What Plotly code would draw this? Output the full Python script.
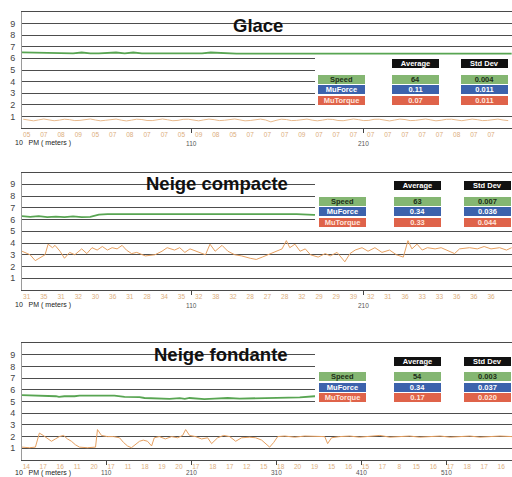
import plotly.graph_objects as go

W, H = 512, 477

# ---------------- data ----------------
PANEL_TITLES = ["Glace", "Neige compacte", "Neige fondante"]
ROW_NAMES = ["Speed", "MuForce", "MuTorque"]
AVG_GLACE = ["64", "0.11", "0.07"]
STD_GLACE = ["0.004", "0.011", "0.011"]
AVG_COMPACTE = ["63", "0.34", "0.33"]
STD_COMPACTE = ["0.007", "0.036", "0.044"]
AVG_FONDANTE = ["54", "0.34", "0.17"]
STD_FONDANTE = ["0.003", "0.037", "0.020"]

Y_TICKS = [1, 2, 3, 4, 5, 6, 7, 8, 9, 10]
Y_TICKTEXT = ["1", "2", "3", "4", "5", "6", "7", "8", "9", ""]

# small sample labels under each axis (PM in meters)
SAMPLE_PM_1 = [14 + 10 * k for k in range(28)]
SAMPLE_LBL_1 = ["05", "07", "08", "09", "05", "07", "08", "07", "07", "05", "09", "08", "05", "07",
                "07", "07", "09", "07", "07", "07", "07", "07", "07", "07", "07", "08", "07", "07"]
SAMPLE_PM_2 = [14 + 10 * k for k in range(28)]
SAMPLE_LBL_2 = ["31", "35", "31", "32", "30", "36", "31", "28", "34", "35", "32", "38", "32", "28",
                "27", "28", "32", "29", "29", "39", "32", "31", "36", "33", "33", "36", "36", "36"]
SAMPLE_PM_3 = [15 + 20 * k for k in range(29)]
SAMPLE_LBL_3 = ["14", "17", "16", "11", "20", "17", "11", "18", "19", "20", "17", "18", "17", "12",
                "15", "18", "20", "19", "15", "16", "15", "17", "8", "15", "16", "17", "18", "17", "16"]

PM_MARKS_1 = [110, 210]
PM_MARKS_2 = [110, 210]
PM_MARKS_3 = [110, 210, 310, 410, 510]

# Glace : speed (/10) and MuTorque (x10)
SPEED1_PM = [11, 16, 21, 26, 31, 36, 41, 46, 51, 56, 61, 66, 71, 76, 81, 86, 91, 96, 101, 106,
             111, 116, 121, 126, 131, 136, 141, 146, 151, 156, 161, 166, 171, 176, 181, 186, 191,
             196, 201, 206, 211, 216, 221, 226, 231, 236, 241, 246, 251, 256, 261, 266, 271, 276,
             281, 286, 291, 296]
SPEED1 = [6.52, 6.50, 6.45, 6.43, 6.43, 6.43, 6.43, 6.50, 6.43, 6.43, 6.48, 6.50, 6.43, 6.50,
          6.43, 6.43, 6.43, 6.48, 6.43, 6.43, 6.43, 6.43, 6.50, 6.45, 6.40, 6.40, 6.40, 6.40,
          6.40, 6.40, 6.40, 6.46, 6.40, 6.40, 6.46, 6.40, 6.40, 6.40, 6.40, 6.40, 6.40, 6.40,
          6.40, 6.46, 6.40, 6.40, 6.40, 6.40, 6.40, 6.40, 6.40, 6.40, 6.40, 6.46, 6.40, 6.40,
          6.40, 6.40]
MUT1_PM = [12 + 3 * k for k in range(95)]
MUT1 = [0.78, 0.70, 0.64, 0.72, 0.80, 0.72, 0.65, 0.70, 0.78, 0.74,
        0.66, 0.68, 0.76, 0.80, 0.71, 0.64, 0.69, 0.77, 0.79, 0.70,
        0.63, 0.70, 0.78, 0.75, 0.67, 0.66, 0.74, 0.80, 0.73, 0.65,
        0.68, 0.77, 0.78, 0.69, 0.64, 0.72, 0.79, 0.74, 0.66, 0.69,
        0.77, 0.80, 0.72, 0.64, 0.67, 0.76, 0.79, 0.71, 0.55, 0.68,
        0.78, 0.75, 0.66, 0.68, 0.76, 0.79, 0.70, 0.64, 0.70, 0.78,
        0.76, 0.67, 0.65, 0.73, 0.80, 0.74, 0.66, 0.68, 0.77, 0.78,
        0.69, 0.63, 0.71, 0.79, 0.75, 0.66, 0.68, 0.76, 0.80, 0.72,
        0.64, 0.69, 0.77, 0.78, 0.70, 0.65, 0.72, 0.79, 0.74, 0.66,
        0.68, 0.76, 0.79, 0.71, 0.66]

# Neige compacte
SPEED2_PM = [11, 16, 21, 26, 31, 36, 41, 46, 51, 56, 61, 71, 81, 91, 101, 111, 121, 126, 131,
             141, 151, 161, 171, 181, 191, 201, 221, 241, 261, 281, 296]
SPEED2 = [6.30, 6.22, 6.28, 6.20, 6.25, 6.20, 6.27, 6.20, 6.22, 6.42, 6.45, 6.45, 6.45, 6.45,
          6.45, 6.45, 6.50, 6.47, 6.45, 6.45, 6.45, 6.45, 6.45, 6.40, 6.45, 6.45, 6.45, 6.45,
          6.45, 6.45, 6.45]
MUT2_PM = [11.3, 16, 19, 24.7, 26.5, 29, 30.5, 33.4, 36, 39, 42, 46, 49, 52, 55, 58, 61, 63.7,
           66.6, 69.5, 72, 75, 78, 83, 88.6, 92.7, 95.7, 100, 103, 106, 109, 113, 118, 120.6,
           123.6, 127.6, 131, 135, 139, 144, 147.5, 151, 154, 158, 162.5, 165, 167, 170, 173,
           176, 179, 183.5, 187.6, 190.5, 194.5, 199, 202, 205, 209, 212.5, 216.5, 220.6, 225,
           229, 233, 235.7, 238, 241, 244, 247, 251.5, 255, 260, 262.8, 265.7, 271.5, 276, 280,
           284, 289, 293, 296]
MUT2 = [3.3, 3.0, 2.5, 3.0, 3.9, 3.6, 3.8, 3.3, 2.7, 3.2, 3.0, 3.5, 3.1, 3.6, 3.4, 3.7, 3.4, 3.6,
        3.5, 3.8, 3.4, 3.1, 3.2, 2.9, 3.0, 3.3, 3.6, 3.4, 3.6, 3.2, 3.5, 3.3, 3.0, 3.9,
        3.3, 3.8, 3.3, 3.0, 2.9, 2.7, 2.6, 2.8, 3.0, 3.2, 3.5, 4.2, 3.6, 3.9, 3.3,
        3.5, 3.0, 2.8, 3.1, 2.9, 3.2, 2.4, 3.1, 3.4, 3.6, 3.3, 3.6, 3.2, 3.4,
        3.0, 2.8, 4.2, 3.5, 3.9, 3.4, 3.6, 3.5, 3.6, 3.3, 3.1, 3.5, 3.6, 3.5, 3.7,
        3.5, 3.6, 3.4, 3.6]

# Neige fondante
SPEED3_PM = [10, 20.5, 44, 50, 53.6, 60, 72, 77.8, 101, 119, 131, 148.6, 154.5, 172, 184, 196,
             202, 207.6, 225, 237, 252.5, 266.7, 290, 314, 337.5, 355, 400, 450, 500, 550, 588]
SPEED3 = [5.55, 5.53, 5.50, 5.45, 5.40, 5.45, 5.45, 5.50, 5.50, 5.50, 5.40, 5.38, 5.30, 5.28,
          5.22, 5.28, 5.22, 5.30, 5.20, 5.25, 5.30, 5.25, 5.28, 5.30, 5.35, 5.45, 5.45, 5.45,
          5.45, 5.45, 5.45]
MUT3_PM = [10, 18.7, 25.8, 30.5, 35, 40, 44.7, 49.4, 54, 59, 63.6, 68.3, 73, 77.8, 87, 96.7, 99,
           103.7, 110.8, 118, 125, 129.7, 134.4, 139, 143.9, 148.6, 153, 158, 162.8, 166, 172,
           179, 186.4, 193.5, 199.4, 203, 207.6, 214.7, 221.8, 228.9, 233.6, 240.7, 247.8,
           254.9, 262, 269, 278.5, 285.5, 292.6, 297.3, 302, 306.8, 311.5, 319.8, 331.6, 343.4,
           355, 367, 370.4, 375, 384.6, 396.4, 408, 420, 432, 443.8, 455.6, 467, 479, 491, 503,
           515, 526.5, 538, 550, 562, 573.6, 587.8]
MUT3 = [1.10, 1.05, 1.10, 2.30, 2.10, 1.80, 1.60, 1.80, 2.00, 2.10, 1.80, 1.60, 1.30, 1.10,
        1.05, 1.10, 2.60, 2.10, 2.00, 2.00, 1.90, 1.50, 1.20, 1.05, 1.30, 1.60, 1.70, 1.60,
        1.20, 1.90, 2.00, 1.80, 2.00, 1.90, 2.10, 2.60, 2.10, 2.00, 1.80, 1.90, 1.40, 1.90,
        2.10, 2.00, 1.60, 1.90, 1.95, 1.90, 1.70, 1.40, 1.10, 1.50, 2.00, 2.05, 1.95, 2.05,
        2.00, 2.00, 1.40, 1.90, 2.00, 2.05, 1.95, 2.00, 2.10, 1.95, 2.00, 2.05, 1.95, 2.00,
        2.05, 1.95, 2.00, 2.05, 1.95, 2.00, 2.05, 2.00]

# ---------------- styling / geometry ----------------
FONT = "Liberation Sans, Arial, sans-serif"
GREEN = "#58a552"
ORANGE = "#e6a060"
BOX_COLORS = ["#84b672", "#3c62ac", "#df634a"]
BOX_TEXT = ["#1d2e18", "#ffffff", "#ffe6dc"]
GRID = "#4d4d4d"

panels = [
    dict(title=PANEL_TITLES[0], top=11.7, bot=128.3, xr=[11.3, 296.2],
         speed=(SPEED1_PM, SPEED1), mut=(MUT1_PM, MUT1), mut_color="#e8b98c",
         ticks=(SAMPLE_PM_1, SAMPLE_LBL_1), marks=PM_MARKS_1,
         avg=AVG_GLACE, std=STD_GLACE, title_xy=(258, 25.5), pm_y=143,
         blank=(56, 110), head_y=63.7, rows_y=[79.0, 89.6, 100.2],
         cols=[341, 415.7, 484.3]),
    dict(title=PANEL_TITLES[1], top=172.5, bot=290.0, xr=[11.3, 296.2],
         speed=(SPEED2_PM, SPEED2), mut=(MUT2_PM, MUT2), mut_color=ORANGE,
         ticks=(SAMPLE_PM_2, SAMPLE_LBL_2), marks=PM_MARKS_2,
         avg=AVG_COMPACTE, std=STD_COMPACTE, title_xy=(217, 183.5), pm_y=305,
         blank=(176, 229), head_y=185.3, rows_y=[201.2, 211.6, 222.0],
         cols=[342.7, 417.7, 487]),
    dict(title=PANEL_TITLES[2], top=343.0, bot=460.0, xr=[10, 587.8],
         speed=(SPEED3_PM, SPEED3), mut=(MUT3_PM, MUT3), mut_color=ORANGE,
         ticks=(SAMPLE_PM_3, SAMPLE_LBL_3), marks=PM_MARKS_3,
         avg=AVG_FONDANTE, std=STD_FONDANTE, title_xy=(221, 354.5), pm_y=472.5,
         blank=(346, 404), head_y=361.7, rows_y=[376.2, 387.0, 397.8],
         cols=[342.7, 417.7, 487]),
]


def px(x):
    return x / W


def py(y):
    return 1 - y / H


fig = go.Figure()
annotations = []
shapes = []
layout = dict(width=W, height=H, margin=dict(l=0, r=0, t=0, b=0),
              paper_bgcolor="white", plot_bgcolor="white", showlegend=False,
              font=dict(family=FONT, color="#333"))

for i, p in enumerate(panels):
    s = "" if i == 0 else str(i + 1)
    xa, ya = "x" + s, "y" + s
    layout["xaxis" + s] = dict(
        domain=[22 / W, 1], range=p["xr"], anchor=ya, showgrid=False, zeroline=False,
        showline=True, mirror=True, linecolor="#4a4a4a", linewidth=1,
        tickmode="array", tickvals=p["ticks"][0], ticktext=p["ticks"][1], ticks="",
        tickfont=dict(size=6.5, color="#dcae7c"),
        minor=dict(tickmode="array", tickvals=p["marks"], ticks="outside", ticklen=4,
                   tickcolor="#444", showgrid=False),
        fixedrange=True)
    layout["yaxis" + s] = dict(
        domain=[py(p["bot"]), py(p["top"])], range=[0, 10], anchor=xa,
        tickmode="array", tickvals=Y_TICKS, ticktext=Y_TICKTEXT, ticks="",
        showgrid=True, gridcolor=GRID, gridwidth=1, zeroline=False,
        showline=True, linecolor="#9a9a9a", linewidth=1,
        tickfont=dict(size=9, color="#444"), ticklabelstandoff=4, fixedrange=True)

    fig.add_trace(go.Scatter(x=p["mut"][0], y=p["mut"][1], mode="lines", xaxis=xa, yaxis=ya,
                             line=dict(color=p["mut_color"], width=1), hoverinfo="skip"))
    fig.add_trace(go.Scatter(x=p["speed"][0], y=p["speed"][1], mode="lines", xaxis=xa,
                             yaxis=ya, line=dict(color=GREEN, width=1.8), hoverinfo="skip"))

    # title
    annotations.append(dict(text="<b>%s</b>" % p["title"], xref="paper", yref="paper",
                            x=px(p["title_xy"][0]), y=py(p["title_xy"][1]), showarrow=False,
                            xanchor="center", yanchor="middle",
                            font=dict(size=18.5, color="#111", family=FONT)))
    # PM labels
    annotations.append(dict(text="10&nbsp;&nbsp;&nbsp;PM ( meters )", xref="paper", yref="paper",
                            x=px(13), y=py(p["pm_y"]), showarrow=False, xanchor="left",
                            yanchor="middle", font=dict(size=7, color="#222")))
    for m in p["marks"]:
        annotations.append(dict(text=str(m), xref=xa, yref="paper", x=m, y=py(p["pm_y"]),
                                showarrow=False, xanchor="center", yanchor="middle",
                                font=dict(size=6.5, color="#555")))

    # white area behind the table
    shapes.append(dict(type="rect", xref="paper", yref="paper", x0=px(315), x1=1,
                       y0=py(p["blank"][1]), y1=py(p["blank"][0]), fillcolor="white",
                       line=dict(width=0), layer="above"))

    def box(text, xc, yc, bg, fg):
        annotations.append(dict(text="<b>%s</b>" % text, xref="paper", yref="paper",
                                x=px(xc), y=py(yc), xanchor="center", yanchor="middle",
                                showarrow=False, width=47, height=9.2, bgcolor=bg,
                                borderpad=0, borderwidth=0, align="center",
                                font=dict(size=7.5, color=fg, family=FONT)))

    box("Average", p["cols"][1], p["head_y"], "#111111", "#ffffff")
    box("Std Dev", p["cols"][2], p["head_y"], "#111111", "#ffffff")
    for r, name in enumerate(ROW_NAMES):
        yc = p["rows_y"][r]
        box(name, p["cols"][0], yc, BOX_COLORS[r], BOX_TEXT[r])
        box(p["avg"][r], p["cols"][1], yc, BOX_COLORS[r], BOX_TEXT[r])
        box(p["std"][r], p["cols"][2], yc, BOX_COLORS[r], BOX_TEXT[r])

layout["annotations"] = annotations
layout["shapes"] = shapes
fig.update_layout(**layout)
fig.write_html("out.html",
               config={"displayModeBar": False},
               post_script="document.body.style.margin='0';"
                           "document.body.style.overflow='hidden';")
